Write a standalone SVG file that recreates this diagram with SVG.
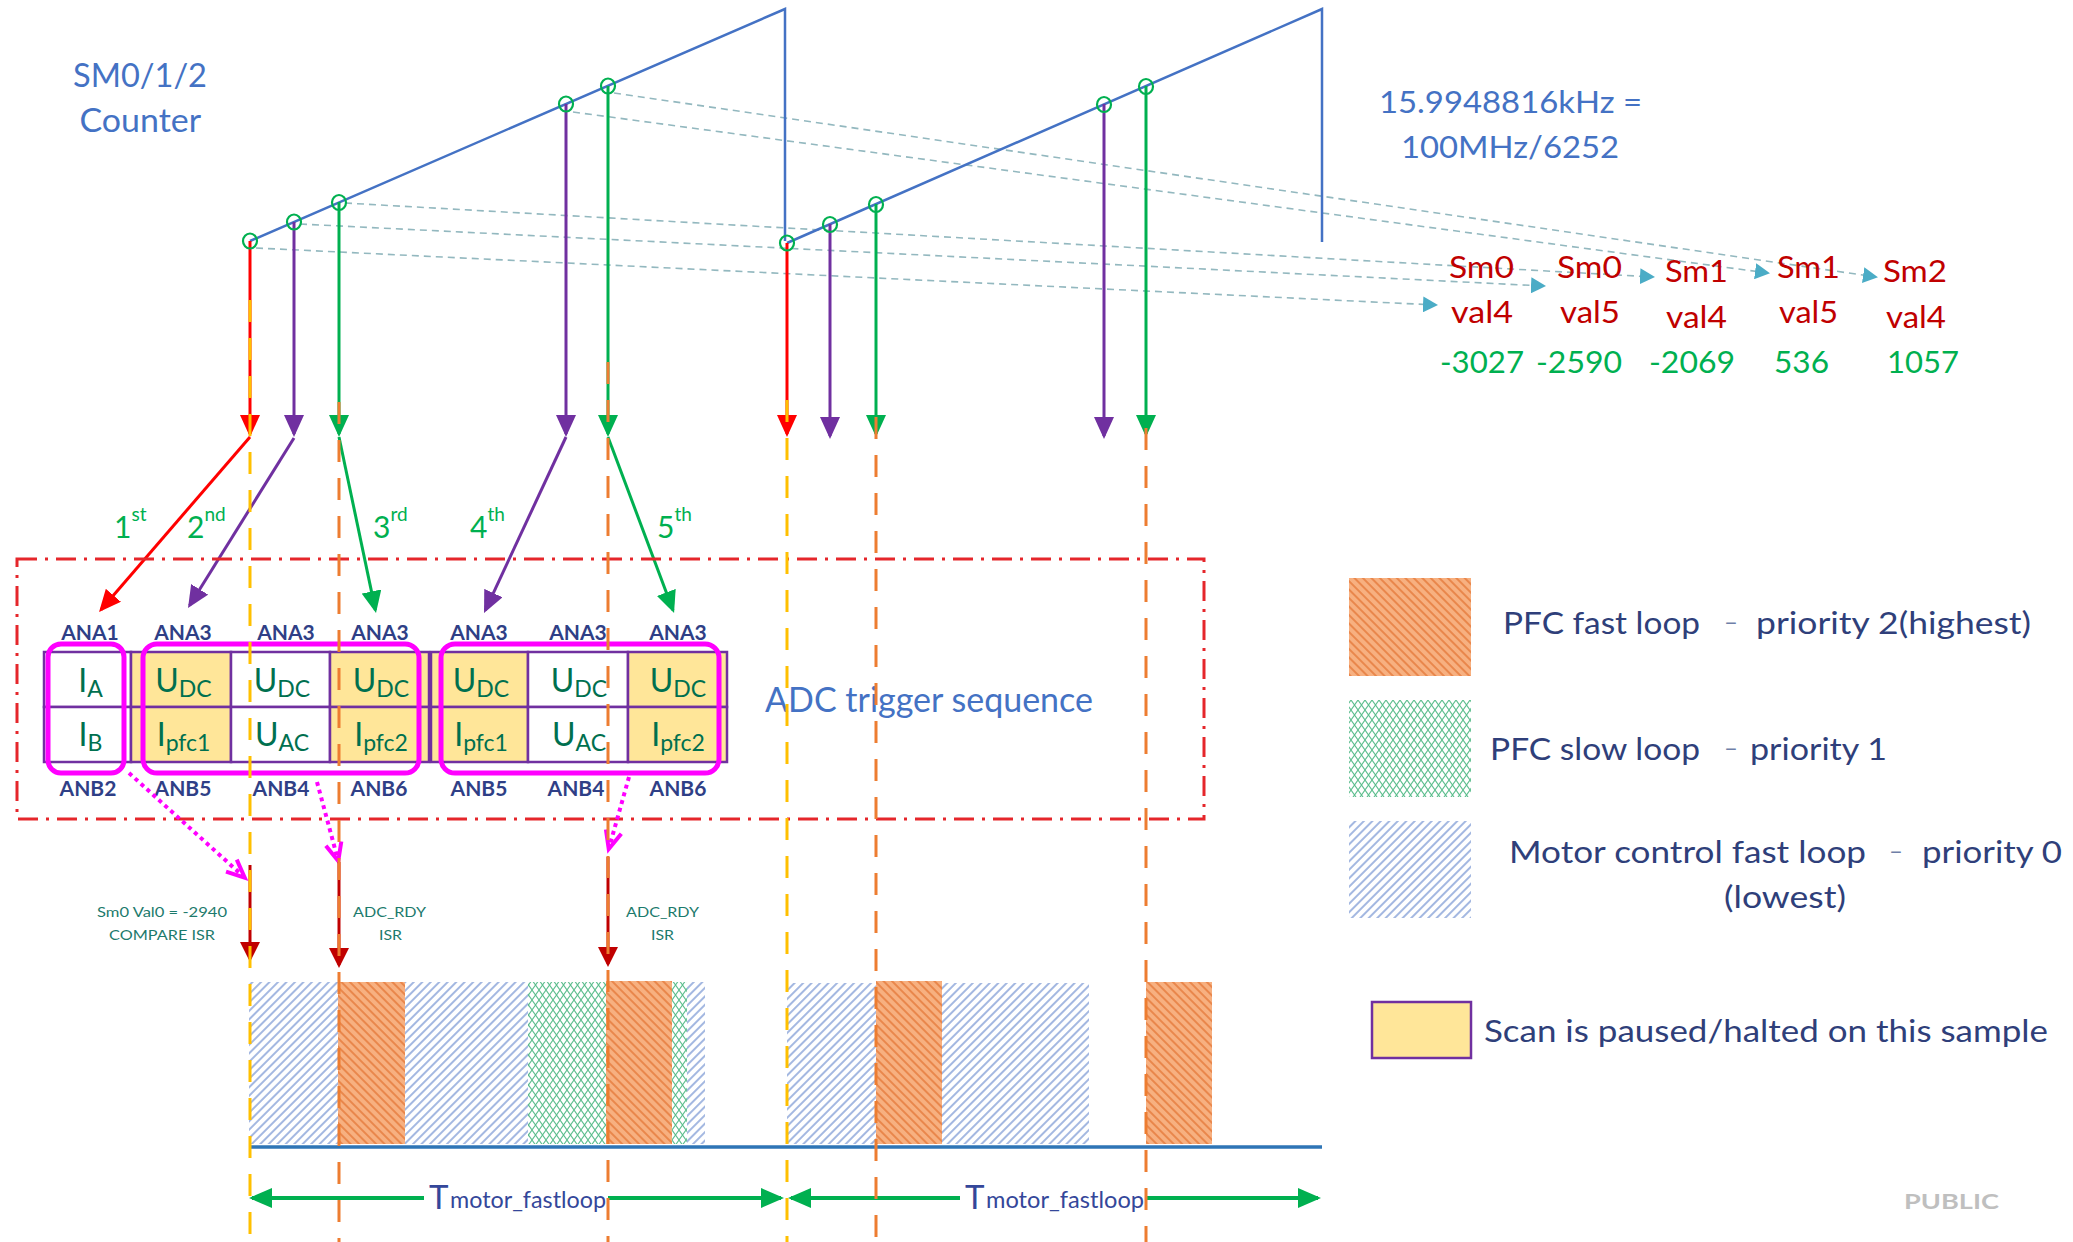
<svg xmlns="http://www.w3.org/2000/svg" width="2073" height="1242" viewBox="0 0 2073 1242">
<defs>
<style>
text { font-family: Lato, "Liberation Sans", sans-serif; }
.ttl { fill:#4472C4; }
.leg { fill:#2F3F7A; font-size:31px; }
.dash { fill:#6F7FA8; font-size:24px; }
.sm { fill:#C00000; font-size:30px; }
.num { fill:#00B050; font-size:30px; }
.ord { fill:#00B050; font-size:30px; }
.sup { font-size:19px; }
.an { fill:#2F3F86; font-size:21px; font-weight:bold; text-anchor:middle; }
.cell { fill:#00704F; text-anchor:middle; font-size:32px; }
.sub { font-size:23px; }
.isr { fill:#1C7A6C; font-size:14px; }
.cyc { fill:#34479A; }
.ramp { fill:none; stroke:#4472C4; stroke-width:2.5; }
.proj { fill:none; stroke:#93B8BF; stroke-width:1.6; stroke-dasharray:7 5; }
.ring { fill:none; stroke:#00B050; stroke-width:2.2; }
.trg { fill:none; stroke-width:3; }
.red { stroke:#FF0000; }
.pur { stroke:#7030A0; }
.grn { stroke:#00B050; }
.ydash { fill:none; stroke:#FFC000; stroke-width:3; stroke-dasharray:22 16; }
.odash { fill:none; stroke:#ED7D31; stroke-width:3; stroke-dasharray:22 16; }
.isra { fill:none; stroke:#C00000; stroke-width:3; }
.dot { fill:none; stroke:#FF00FF; stroke-width:4; stroke-dasharray:4 4; }
.grp { fill:none; stroke:#FF00FF; stroke-width:5; }
.cw { fill:#FFFFFF; stroke:#7030A0; stroke-width:2.5; }
.cy { fill:#FFE699; stroke:#7030A0; stroke-width:2.5; }
.per { fill:none; stroke:#00B050; stroke-width:4; }
</style>
<pattern id="hBlue" patternUnits="userSpaceOnUse" width="6" height="6" patternTransform="rotate(45)">
<rect width="6" height="6" fill="#FFFFFF"/>
<line x1="3" y1="0" x2="3" y2="6" stroke="#7392D2" stroke-width="1.3"/>
</pattern>
<pattern id="hOrange" patternUnits="userSpaceOnUse" width="6" height="6" patternTransform="rotate(-45)">
<rect width="6" height="6" fill="#F7B080"/>
<line x1="3" y1="0" x2="3" y2="6" stroke="#E5793A" stroke-width="1.5"/>
</pattern>
<pattern id="hGreen" patternUnits="userSpaceOnUse" width="7" height="10">
<rect width="7" height="10" fill="#FFFFFF"/>
<path d="M0,0 L7,10 M7,0 L0,10" stroke="#5DBE8E" stroke-width="1.1" fill="none"/>
</pattern>
<marker id="mRed" markerUnits="userSpaceOnUse" markerWidth="22" markerHeight="20" viewBox="0 0 22 20" refX="19" refY="10" orient="auto"><path d="M0,0 L22,10 L0,20 Z" fill="#FF0000"/></marker>
<marker id="mPur" markerUnits="userSpaceOnUse" markerWidth="22" markerHeight="20" viewBox="0 0 22 20" refX="19" refY="10" orient="auto"><path d="M0,0 L22,10 L0,20 Z" fill="#7030A0"/></marker>
<marker id="mGrn" markerUnits="userSpaceOnUse" markerWidth="22" markerHeight="20" viewBox="0 0 22 20" refX="19" refY="10" orient="auto"><path d="M0,0 L22,10 L0,20 Z" fill="#00B050"/></marker>
<marker id="mDark" markerUnits="userSpaceOnUse" markerWidth="20" markerHeight="20" viewBox="0 0 20 20" refX="17" refY="10" orient="auto"><path d="M0,0 L20,10 L0,20 Z" fill="#C00000"/></marker>
<marker id="mPer" markerUnits="userSpaceOnUse" markerWidth="23" markerHeight="20" viewBox="0 0 23 20" refX="20" refY="10" orient="auto-start-reverse"><path d="M0,0 L23,10 L0,20 Z" fill="#00B050"/></marker>
<marker id="mCyan" markerUnits="userSpaceOnUse" markerWidth="15" markerHeight="16" viewBox="0 0 15 16" refX="13" refY="8" orient="auto"><path d="M0,0 L15,8 L0,16 Z" fill="#4BACC6"/></marker>
<marker id="mMag" markerUnits="userSpaceOnUse" markerWidth="22" markerHeight="20" viewBox="0 0 22 20" refX="19" refY="10" orient="auto" overflow="visible"><path d="M2,2 L20,10 L2,18" fill="none" stroke="#FF00FF" stroke-width="4" stroke-linejoin="miter"/></marker>
</defs>

<rect width="2073" height="1242" fill="#FFFFFF"/>

<!-- projection dashed lines -->
<g id="projections">
<path class="proj" d="M256,248 L1436,305" marker-end="url(#mCyan)"/>
<path class="proj" d="M300,224 L1544,286" marker-end="url(#mCyan)"/>
<path class="proj" d="M345,203 L1653,277" marker-end="url(#mCyan)"/>
<path class="proj" d="M573,112 L1768,273" marker-end="url(#mCyan)"/>
<path class="proj" d="M614,93 L1876,277" marker-end="url(#mCyan)"/>
</g>

<g id="counter">
<path class="ramp" d="M250,241 L785,9 L785,241 M787,243 L1322,9 L1322,242"/>
</g>

<g id="connectors">
<path class="trg red" d="M250,241 L250,434" marker-end="url(#mRed)"/>
<path class="trg pur" d="M294,222 L294,434" marker-end="url(#mPur)"/>
<path class="trg grn" d="M339,202 L339,434" marker-end="url(#mGrn)"/>
<path class="trg pur" d="M566,104 L566,434" marker-end="url(#mPur)"/>
<path class="trg grn" d="M608,86 L608,434" marker-end="url(#mGrn)"/>
<path class="trg red" d="M787,243 L787,434" marker-end="url(#mRed)"/>
<path class="trg pur" d="M830,224 L830,436" marker-end="url(#mPur)"/>
<path class="trg grn" d="M876,204 L876,434" marker-end="url(#mGrn)"/>
<path class="trg pur" d="M1104,104 L1104,436" marker-end="url(#mPur)"/>
<path class="trg grn" d="M1146,86 L1146,434" marker-end="url(#mGrn)"/>
<path class="trg red" d="M250,437 L101,609.7" marker-end="url(#mRed)"/>
<path class="trg pur" d="M294,438 L189.6,605.5" marker-end="url(#mPur)"/>
<path class="trg grn" d="M339,437 L375.4,610.1" marker-end="url(#mGrn)"/>
<path class="trg pur" d="M566,437 L485.3,610.3" marker-end="url(#mPur)"/>
<path class="trg grn" d="M608,437 L673,610.2" marker-end="url(#mGrn)"/>
</g>

<g id="samples">
<ellipse class="ring" cx="250" cy="241" rx="7" ry="7.5"/>
<ellipse class="ring" cx="294" cy="222" rx="7" ry="7.5"/>
<ellipse class="ring" cx="339" cy="202.5" rx="7" ry="7.5"/>
<ellipse class="ring" cx="566" cy="104" rx="7" ry="7.5"/>
<ellipse class="ring" cx="608" cy="86" rx="7" ry="7.5"/>
<ellipse class="ring" cx="787" cy="243" rx="7" ry="7.5"/>
<ellipse class="ring" cx="830" cy="224.5" rx="7" ry="7.5"/>
<ellipse class="ring" cx="876" cy="204.5" rx="7" ry="7.5"/>
<ellipse class="ring" cx="1104" cy="104.5" rx="7" ry="7.5"/>
<ellipse class="ring" cx="1146" cy="86.5" rx="7" ry="7.5"/>
</g>

<g id="counter-label">
<text class="ttl" x="73" y="87" font-size="32" textLength="134" lengthAdjust="spacingAndGlyphs">SM0/1/2</text>
<text class="ttl" x="79.5" y="132" font-size="32" textLength="121.5" lengthAdjust="spacingAndGlyphs">Counter</text>
</g>
<g id="freq-label">
<text class="ttl" x="1379" y="113" font-size="31" textLength="263" lengthAdjust="spacingAndGlyphs">15.9948816kHz =</text>
<text class="ttl" x="1401" y="158" font-size="31" textLength="218" lengthAdjust="spacingAndGlyphs">100MHz/6252</text>
</g>

<g id="compare-values">
<text class="sm" x="1449" y="278" textLength="65" lengthAdjust="spacingAndGlyphs">Sm0</text>
<text class="sm" x="1451" y="323" textLength="62" lengthAdjust="spacingAndGlyphs">val4</text>
<text class="num" x="1440" y="373" textLength="84" lengthAdjust="spacingAndGlyphs">-3027</text>
<text class="sm" x="1557" y="278" textLength="65" lengthAdjust="spacingAndGlyphs">Sm0</text>
<text class="sm" x="1560" y="323" textLength="60" lengthAdjust="spacingAndGlyphs">val5</text>
<text class="num" x="1536" y="373" textLength="86" lengthAdjust="spacingAndGlyphs">-2590</text>
<text class="sm" x="1665" y="282" textLength="63" lengthAdjust="spacingAndGlyphs">Sm1</text>
<text class="sm" x="1666" y="328" textLength="61" lengthAdjust="spacingAndGlyphs">val4</text>
<text class="num" x="1649" y="373" textLength="86" lengthAdjust="spacingAndGlyphs">-2069</text>
<text class="sm" x="1777" y="278" textLength="63" lengthAdjust="spacingAndGlyphs">Sm1</text>
<text class="sm" x="1779" y="323" textLength="59" lengthAdjust="spacingAndGlyphs">val5</text>
<text class="num" x="1774" y="373" textLength="55" lengthAdjust="spacingAndGlyphs">536</text>
<text class="sm" x="1883" y="282" textLength="64" lengthAdjust="spacingAndGlyphs">Sm2</text>
<text class="sm" x="1886" y="328" textLength="60" lengthAdjust="spacingAndGlyphs">val4</text>
<text class="num" x="1887" y="373" textLength="72" lengthAdjust="spacingAndGlyphs">1057</text>
</g>

<g id="ordinals">
<text class="ord" x="114" y="538">1<tspan class="sup" dy="-17">st</tspan></text>
<text class="ord" x="187" y="538">2<tspan class="sup" dy="-17">nd</tspan></text>
<text class="ord" x="373" y="538">3<tspan class="sup" dy="-17">rd</tspan></text>
<text class="ord" x="470" y="538">4<tspan class="sup" dy="-17">th</tspan></text>
<text class="ord" x="657" y="538">5<tspan class="sup" dy="-17">th</tspan></text>
</g>

<g id="adc-table">
<rect class="cw" x="44" y="652" width="87" height="55"/>
<rect class="cw" x="44" y="707" width="87" height="55"/>
<rect class="cy" x="131" y="652" width="100" height="55"/>
<rect class="cy" x="131" y="707" width="100" height="55"/>
<rect class="cw" x="231" y="652" width="99" height="55"/>
<rect class="cw" x="231" y="707" width="99" height="55"/>
<rect class="cy" x="330" y="652" width="99" height="55"/>
<rect class="cy" x="330" y="707" width="99" height="55"/>
<rect class="cy" x="431" y="652" width="97" height="55"/>
<rect class="cy" x="431" y="707" width="97" height="55"/>
<rect class="cw" x="528" y="652" width="100" height="55"/>
<rect class="cw" x="528" y="707" width="100" height="55"/>
<rect class="cy" x="628" y="652" width="99" height="55"/>
<rect class="cy" x="628" y="707" width="99" height="55"/>
<text class="cell" x="90.5" y="692">I<tspan class="sub" dy="5">A</tspan></text>
<text class="cell" x="90.5" y="746">I<tspan class="sub" dy="5">B</tspan></text>
<text class="cell" x="183.5" y="692">U<tspan class="sub" dy="5">DC</tspan></text>
<text class="cell" x="183.5" y="746">I<tspan class="sub" dy="5">pfc1</tspan></text>
<text class="cell" x="282" y="692">U<tspan class="sub" dy="5">DC</tspan></text>
<text class="cell" x="282" y="746">U<tspan class="sub" dy="5">AC</tspan></text>
<text class="cell" x="381" y="692">U<tspan class="sub" dy="5">DC</tspan></text>
<text class="cell" x="381" y="746">I<tspan class="sub" dy="5">pfc2</tspan></text>
<text class="cell" x="481" y="692">U<tspan class="sub" dy="5">DC</tspan></text>
<text class="cell" x="481" y="746">I<tspan class="sub" dy="5">pfc1</tspan></text>
<text class="cell" x="579" y="692">U<tspan class="sub" dy="5">DC</tspan></text>
<text class="cell" x="579" y="746">U<tspan class="sub" dy="5">AC</tspan></text>
<text class="cell" x="678" y="692">U<tspan class="sub" dy="5">DC</tspan></text>
<text class="cell" x="678" y="746">I<tspan class="sub" dy="5">pfc2</tspan></text>
<rect class="grp" x="48" y="644" width="76" height="129" rx="13"/>
<rect class="grp" x="143" y="644" width="276" height="129" rx="14"/>
<rect class="grp" x="441" y="644" width="278" height="129" rx="14"/>
</g>

<g id="channel-labels">
<text class="an" x="90" y="640">ANA1</text>
<text class="an" x="183" y="640">ANA3</text>
<text class="an" x="286" y="640">ANA3</text>
<text class="an" x="380" y="640">ANA3</text>
<text class="an" x="479" y="640">ANA3</text>
<text class="an" x="578" y="640">ANA3</text>
<text class="an" x="678" y="640">ANA3</text>
<text class="an" x="88" y="796">ANB2</text>
<text class="an" x="183" y="796">ANB5</text>
<text class="an" x="281" y="796">ANB4</text>
<text class="an" x="379" y="796">ANB6</text>
<text class="an" x="479" y="796">ANB5</text>
<text class="an" x="576" y="796">ANB4</text>
<text class="an" x="678" y="796">ANB6</text>
</g>

<g id="adc-sequence-box">
<rect x="17" y="559" width="1187" height="260" fill="none" stroke="#E5262B" stroke-width="3" stroke-dasharray="20 8 3 8"/>
<text class="ttl" x="765" y="712" font-size="35" textLength="328" lengthAdjust="spacingAndGlyphs">ADC trigger sequence</text>
</g>

<g id="timeline">
<rect x="249" y="982" width="456" height="162" fill="url(#hBlue)"/>
<rect x="787" y="983" width="302" height="161" fill="url(#hBlue)"/>
<rect x="528" y="982" width="159" height="162" fill="url(#hGreen)"/>
<rect x="338" y="982" width="67" height="162" fill="url(#hOrange)"/>
<rect x="606" y="981" width="66" height="163" fill="url(#hOrange)"/>
<rect x="876" y="981" width="66" height="163" fill="url(#hOrange)"/>
<rect x="1146" y="982" width="66" height="162" fill="url(#hOrange)"/>
<line x1="249" y1="1147" x2="1322" y2="1147" stroke="#2E75B6" stroke-width="3.5"/>
</g>

<g id="isr-connectors">
<path class="dot" d="M129,773 L244,877" marker-end="url(#mMag)"/>
<path class="dot" d="M317,782 L338,860" marker-end="url(#mMag)"/>
<path class="dot" d="M629,777 L609,848" marker-end="url(#mMag)"/>
<path class="isra" d="M250,865 L250,959" marker-end="url(#mDark)"/>
<path class="isra" d="M339,862 L339,965" marker-end="url(#mDark)"/>
<path class="isra" d="M608,857 L608,964" marker-end="url(#mDark)"/>
</g>

<g id="isr-labels">
<text class="isr" x="97" y="917" textLength="130" lengthAdjust="spacingAndGlyphs">Sm0 Val0 = -2940</text>
<text class="isr" x="109" y="940" textLength="106" lengthAdjust="spacingAndGlyphs">COMPARE ISR</text>
<text class="isr" x="353" y="917" textLength="73" lengthAdjust="spacingAndGlyphs">ADC_RDY</text>
<text class="isr" x="379" y="940" textLength="23" lengthAdjust="spacingAndGlyphs">ISR</text>
<text class="isr" x="626" y="917" textLength="73" lengthAdjust="spacingAndGlyphs">ADC_RDY</text>
<text class="isr" x="651" y="940" textLength="23" lengthAdjust="spacingAndGlyphs">ISR</text>
</g>

<g id="period-arrows">
<path class="per" d="M252,1198 L781,1198" marker-start="url(#mPer)" marker-end="url(#mPer)"/>
<path class="per" d="M791,1198 L1318,1198" marker-start="url(#mPer)" marker-end="url(#mPer)"/>
</g>
<g id="period-label-1">
<rect x="424" y="1175" width="184" height="45" fill="#FFFFFF"/>
<text class="cyc" x="429" y="1209" font-size="33">T</text>
<text class="cyc" x="450" y="1208" font-size="23" textLength="156" lengthAdjust="spacingAndGlyphs">motor_fastloop</text>
</g>
<g id="period-label-2">
<rect x="960" y="1175" width="185" height="45" fill="#FFFFFF"/>
<text class="cyc" x="965" y="1209" font-size="33">T</text>
<text class="cyc" x="986" y="1208" font-size="23" textLength="158" lengthAdjust="spacingAndGlyphs">motor_fastloop</text>
</g>

<g id="guides">
<line class="ydash" x1="250" y1="300" x2="250" y2="1242"/>
<line class="odash" x1="339" y1="402" x2="339" y2="1242"/>
<line class="odash" x1="608" y1="362" x2="608" y2="1242"/>
<line class="ydash" x1="787" y1="400" x2="787" y2="1242"/>
<line class="odash" x1="876" y1="417" x2="876" y2="1242"/>
<line class="odash" x1="1146" y1="428" x2="1146" y2="1242"/>
</g>

<g id="legend-pfc-fast">
<rect x="1349" y="578" width="122" height="98" fill="url(#hOrange)"/>
<text class="leg" x="1503" y="634" textLength="197" lengthAdjust="spacingAndGlyphs">PFC fast loop</text>
<text class="dash" x="1724" y="630">–</text>
<text class="leg" x="1756" y="634" textLength="275" lengthAdjust="spacingAndGlyphs">priority 2(highest)</text>
</g>
<g id="legend-pfc-slow">
<rect x="1349" y="700" width="122" height="97" fill="url(#hGreen)"/>
<text class="leg" x="1490" y="760" textLength="210" lengthAdjust="spacingAndGlyphs">PFC slow loop</text>
<text class="dash" x="1724" y="756">–</text>
<text class="leg" x="1750" y="760" textLength="137" lengthAdjust="spacingAndGlyphs">priority 1</text>
</g>
<g id="legend-motor">
<rect x="1349" y="821" width="122" height="97" fill="url(#hBlue)"/>
<text class="leg" x="1509" y="863" textLength="357" lengthAdjust="spacingAndGlyphs">Motor control fast loop</text>
<text class="dash" x="1889" y="859">–</text>
<text class="leg" x="1922" y="863" textLength="140" lengthAdjust="spacingAndGlyphs">priority 0</text>
<text class="leg" x="1724" y="908" textLength="122" lengthAdjust="spacingAndGlyphs">(lowest)</text>
</g>
<g id="legend-paused">
<rect x="1372" y="1002" width="99" height="56" fill="#FFE699" stroke="#7030A0" stroke-width="2.5"/>
<text class="leg" x="1484" y="1042" textLength="564" lengthAdjust="spacingAndGlyphs">Scan is paused/halted on this sample</text>
</g>

<g id="public-mark">
<text x="1904" y="1209" font-size="21" font-weight="bold" fill="#BFBFBF" textLength="95" lengthAdjust="spacingAndGlyphs">PUBLIC</text>
</g>
</svg>
